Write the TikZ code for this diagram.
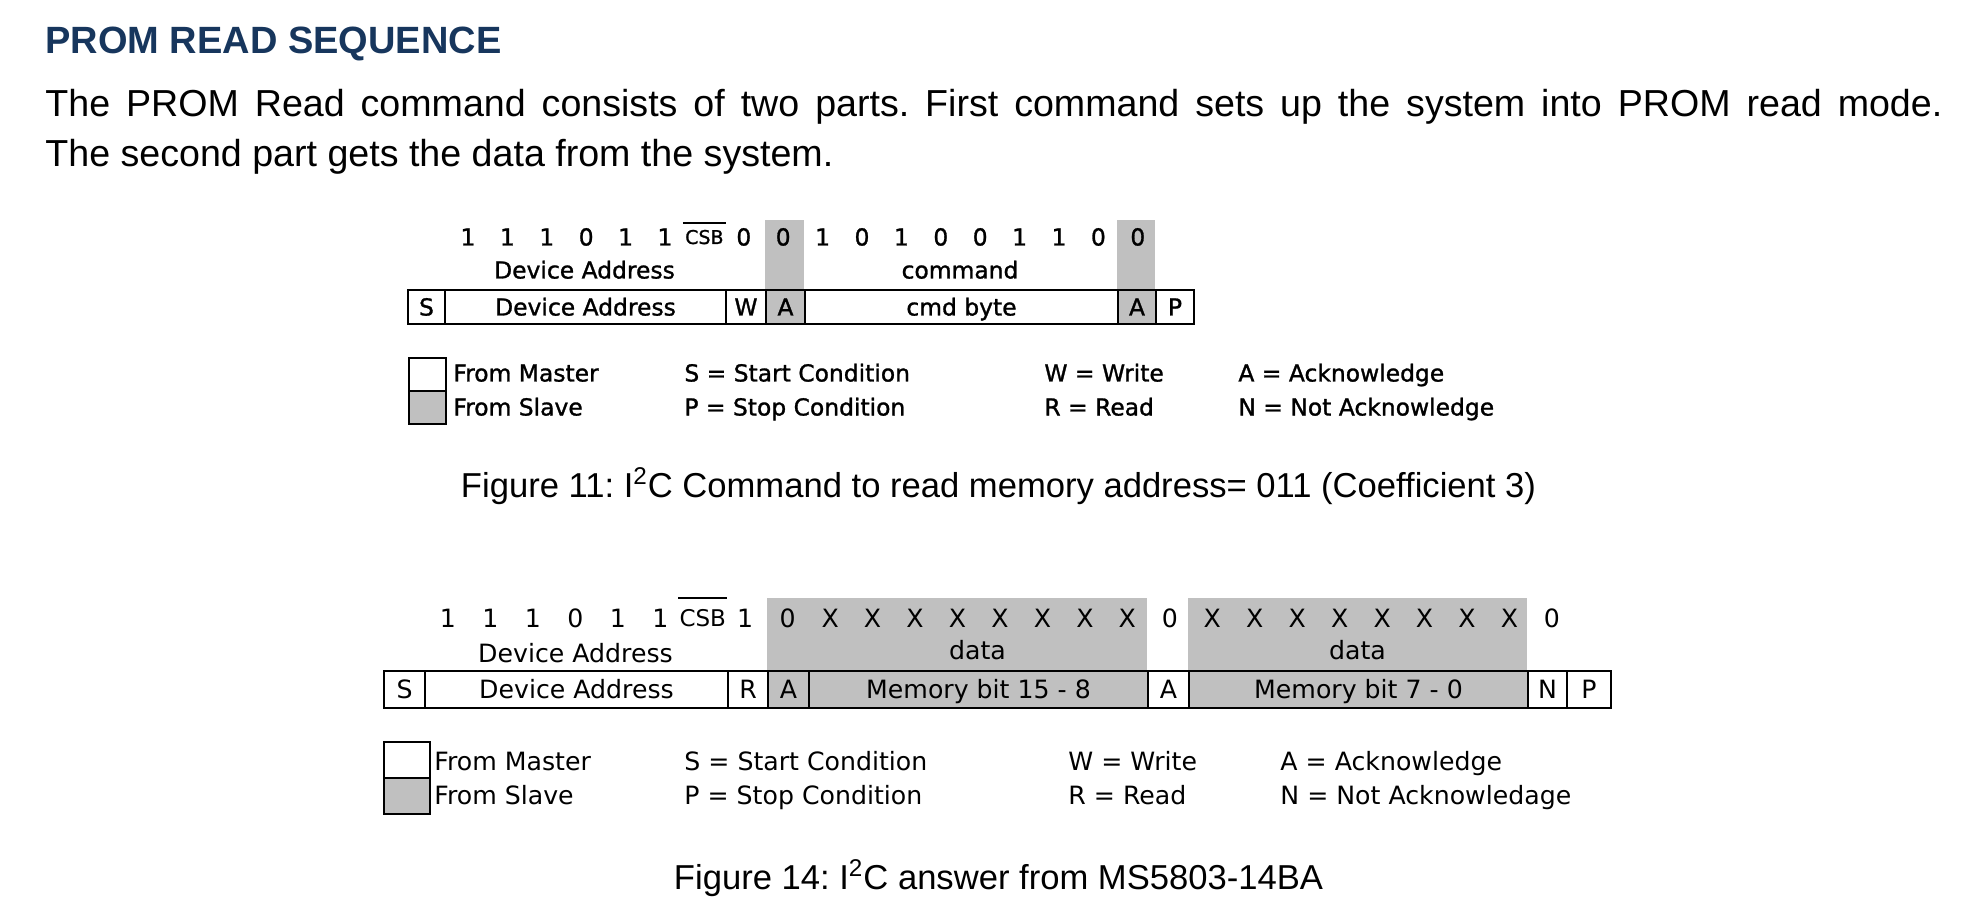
\documentclass[tikz,border=0pt]{standalone}
\usepackage{fontspec}
\setmainfont{Liberation Sans}
\newfontfamily\tahfont{DejaVu Sans}
\newfontfamily\tahheavy[FakeBold=1.2]{DejaVu Sans}
\usetikzlibrary{positioning}
\definecolor{headblue}{RGB}{23,54,93}
\definecolor{slavegrey}{RGB}{192,192,192}
\frenchspacing

\begin{document}
\begin{tikzpicture}[
    x=0.5pt, y=-0.5pt,
    heading/.style={font=\fontsize{19}{23}\selectfont\bfseries, text=headblue, anchor=base west, inner sep=0pt},
    bodytext/.style={font=\fontsize{18.8}{23}\selectfont, anchor=base west, inner sep=0pt},
    figcaption/.style={font=\fontsize{17.3}{21}\selectfont, anchor=base, inner sep=0pt},
    labA/.style={font=\tahheavy\fontsize{11.7}{13}\selectfont, text height=8.5pt, text depth=0pt, inner sep=0pt},
    labB/.style={font=\tahfont\fontsize{12.6}{14}\selectfont, text height=9.2pt, text depth=0pt, inner sep=0pt},
    cell/.style={draw, line width=1pt, inner sep=0pt, anchor=north west},
    legbox/.style={draw, line width=1pt, inner sep=0pt, anchor=north west}
]
\useasboundingbox (0,0) rectangle (1965,914);

% Header
\node[heading] (title) at (45,54) {PROM READ SEQUENCE};
\node[bodytext] (para1) at (45,117) {\makebox[948.5pt][s]{The PROM Read command consists of two parts. First command sets up the system into PROM read mode.}};
\node[bodytext] (para2) at (45,167) {The second part gets the data from the system.};

% Figure 11: command frame
\fill[slavegrey] (765,220) rectangle (804,323);
\fill[slavegrey] (1117,220) rectangle (1155,323);
\foreach \l/\r/\t/\f [count=\k] in {407/444/S/white, 444/725/Device Address/white, 725/765/W/white,
    765/804/A/slavegrey, 804/1117/cmd byte/white, 1117/1155/A/slavegrey, 1155/1193/P/white} {
    \node[cell, labA, fill=\f, minimum width={(\r-\l)*0.5pt}, minimum height=17pt] (ca\k) at (\l,289) {\t};
}
\foreach \k/\b in {0/1,1/1,2/1,3/0,4/1,5/1,7/0,8/0,9/1,10/0,11/1,12/0,13/0,14/1,15/1,16/0,17/0} {
    \node[labA] (ba\k) at ({468+39.4*\k},237) {\b};
}
\node[labA, font=\tahheavy\fontsize{9.5}{10}\selectfont, text height=7pt] (csbA) at ({468+39.4*6},237) {CSB};
\draw[line width=1pt] ([xshift=-1pt,yshift=3.5pt]csbA.north west) -- ([xshift=1pt,yshift=3.5pt]csbA.north east);
\node[labA] (devA) at (584.5,270) {Device Address};
\node[labA] (cmdA) at (960,270) {command};

% Figure 11: legend
\node[legbox, minimum width=18.5pt, minimum height=16.5pt] (mastA) at (408,357) {};
\node[legbox, fill=slavegrey, minimum width=18.5pt, minimum height=16.5pt] (slavA) at (408,390) {};
\node[labA, anchor=west] (lmA) at (453,373) {From Master};
\node[labA, anchor=west] (lsA) at (453,407) {From Slave};
\node[labA, anchor=west] (lstA) at (684,373) {S = Start Condition};
\node[labA, anchor=west] (lspA) at (684,407) {P = Stop Condition};
\node[labA, anchor=west] (lwA) at (1044,373) {W = Write};
\node[labA, anchor=west] (lrA) at (1044,407) {R = Read};
\node[labA, anchor=west] (laA) at (1238,373) {A = Acknowledge};
\node[labA, anchor=west] (lnA) at (1238,407) {N = Not Acknowledge};

\node[figcaption] (capA) at (998.5,497) {Figure 11: I\textsuperscript{2}C Command to read memory address= 011 (Coefficient 3)};

% Figure 14: answer frame
\fill[slavegrey] (767,598) rectangle (1147,707);
\fill[slavegrey] (1188,598) rectangle (1527,707);
\foreach \l/\r/\t/\f [count=\k] in {383/424/S/white, 424/727/Device Address/white, 727/767/R/white,
    767/808/A/slavegrey, 808/1147/Memory bit 15 - 8/slavegrey, 1147/1188/A/white,
    1188/1527/Memory bit 7 - 0/slavegrey, 1527/1566/N/white, 1566/1610/P/white} {
    \node[cell, labB, fill=\f, minimum width={(\r-\l)*0.5pt}, minimum height=18.5pt] (cb\k) at (\l,670) {\t};
}
\foreach \k/\b in {0/1,1/1,2/1,3/0,4/1,5/1,7/1,8/0,17/0,26/0} {
    \node[labB] (bb\k) at ({448+42.46*\k},618) {\b};
}
\foreach \k in {9,...,16} {\node[labB] (bb\k) at ({448+42.46*\k},618) {X};}
\foreach \k in {18,...,25} {\node[labB] (bb\k) at ({448+42.46*\k},618) {X};}
\node[labB, font=\tahfont\fontsize{11.5}{12}\selectfont, text height=8.4pt] (csbB) at ({448+42.46*6},618) {CSB};
\draw[line width=1pt] ([xshift=-0.5pt,yshift=5.5pt]csbB.north west) -- ([xshift=0.5pt,yshift=5.5pt]csbB.north east);
\node[labB] (devB) at (575.5,653) {Device Address};
\node[labB] (datB1) at (977.5,650) {data};
\node[labB] (datB2) at (1357.5,650) {data};

% Figure 14: legend
\node[legbox, minimum width=23pt, minimum height=18pt] (mastB) at (383,741) {};
\node[legbox, fill=slavegrey, minimum width=23pt, minimum height=18pt] (slavB) at (383,777) {};
\node[labB, anchor=west] (lmB) at (434,761) {From Master};
\node[labB, anchor=west] (lsB) at (434,795) {From Slave};
\node[labB, anchor=west] (lstB) at (684,761) {S = Start Condition};
\node[labB, anchor=west] (lspB) at (684,795) {P = Stop Condition};
\node[labB, anchor=west] (lwB) at (1068,761) {W = Write};
\node[labB, anchor=west] (lrB) at (1068,795) {R = Read};
\node[labB, anchor=west] (laB) at (1280,761) {A = Acknowledge};
\node[labB, anchor=west] (lnB) at (1280,795) {N = Not Acknowledage};

\node[figcaption] (capB) at (998.5,889) {Figure 14: I\textsuperscript{2}C answer from MS5803-14BA};

\end{tikzpicture}
\end{document}
